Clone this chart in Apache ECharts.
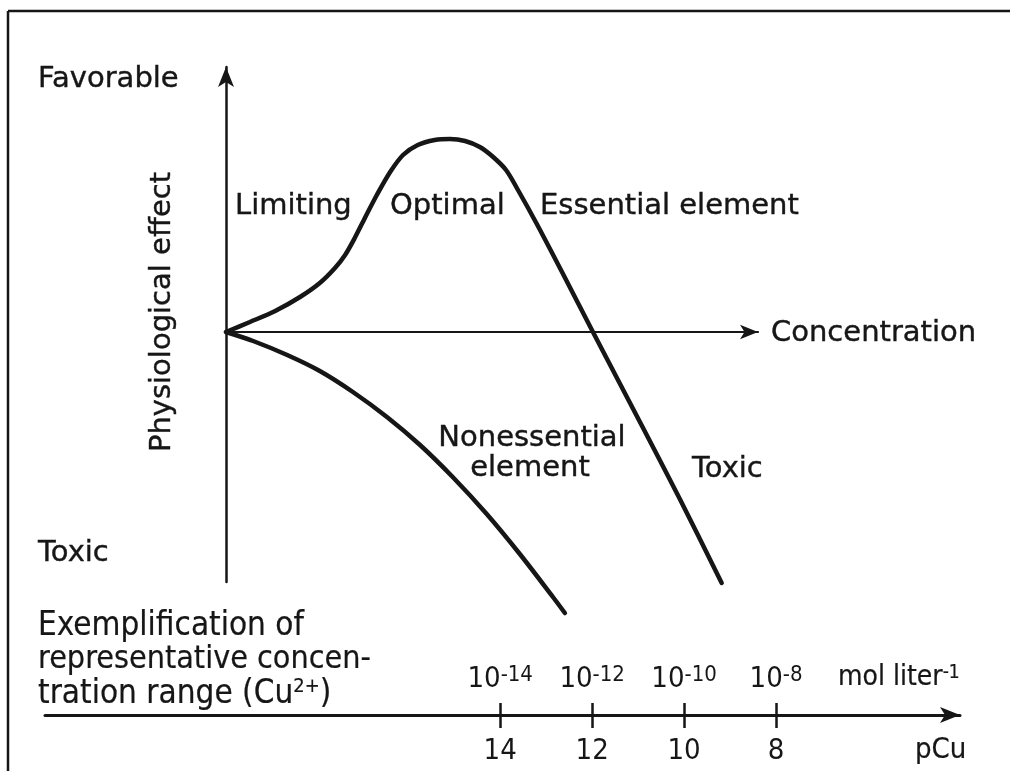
<!DOCTYPE html>
<html><head><meta charset="utf-8">
<script src="https://cdn.jsdelivr.net/npm/echarts@6/dist/echarts.min.js"></script>
<style>html,body{margin:0;padding:0;background:#fff}#c{width:1010px;height:771px}</style>
</head><body><div id="c"></div>
<script>
// x: log10 of Cu2+ concentration (mol/L) = -pCu ; y: physiological effect (arbitrary units, + favorable, - toxic)
const essentialX = [-20, -19.48, -18.93, -18.39, -17.96, -17.63, -17.41, -17.20, -16.98, -16.72, -16.43, -16.15, -15.83, -15.46, -15.13, -14.80, -14.48, -14.19, -13.91, -13.65, -13.24, -12.67, -12.02, -10.85, -10.13, -9.22];
const essentialY = [0, 0.20, 0.42, 0.70, 0.98, 1.28, 1.54, 1.88, 2.28, 2.74, 3.20, 3.54, 3.74, 3.84, 3.86, 3.82, 3.70, 3.50, 3.24, 2.84, 2.16, 1.16, 0, -2.06, -3.34, -5.02];
const nonessentialX = [-20, -19.41, -18.67, -17.96, -17.24, -16.50, -15.78, -15.07, -14.33, -13.61, -12.89, -12.63];
const nonessentialY = [0, -0.18, -0.46, -0.78, -1.20, -1.70, -2.26, -2.90, -3.64, -4.44, -5.30, -5.62];
const pCuTicks = [14, 12, 10, 8];

const INK = '#161616';
const F = '"DejaVu Sans", sans-serif';
const FC = '"DejaVu Sans Condensed", "DejaVu Sans", sans-serif';
const tickVals = pCuTicks.map(p => -p);
const pairs = (xs, ys) => xs.map((x, i) => [x, ys[i]]);

function txt(text, x, y, opts) {
  opts = opts || {};
  const st = Object.assign({
    text: text, font: opts.font || ('29px ' + F), fill: INK,
    stroke: INK, lineWidth: 0.4,
    align: opts.align || 'left', verticalAlign: 'middle',
    textAlign: opts.align || 'left', textVerticalAlign: 'middle'
  }, opts.style || {});
  const el = { type: 'text', x: x, y: y, style: st, silent: true };
  if (opts.rotation) el.rotation = opts.rotation;
  return el;
}

const supRich = { s: { font: '20px ' + FC, fill: INK, verticalAlign: 'top', lineHeight: 18 }, n: { font: '33px ' + FC, fill: INK, lineHeight: 34 } };

const chart = echarts.init(document.getElementById('c'), null, { renderer: 'canvas' });
chart.setOption({
  animation: false,
  backgroundColor: '#fff',
  grid: [
    { left: 226, right: 252, top: 67, bottom: 189 },
    { left: 45, right: 50, top: 715, bottom: 56 }
  ],
  xAxis: [
    { gridIndex: 0, type: 'value', min: -20, max: -8.43,
      axisLine: { onZero: true, symbol: ['none', 'arrow'], symbolSize: [11, 18], lineStyle: { color: INK, width: 2.2 } },
      axisTick: { show: false }, axisLabel: { show: false }, splitLine: { show: false } },
    { gridIndex: 1, type: 'value', position: 'bottom', min: -23.9, max: -4,
      axisLine: { onZero: false, symbol: ['none', 'arrow'], symbolSize: [12, 20], lineStyle: { color: INK, width: 3 } },
      axisTick: { customValues: tickVals, length: 13, lineStyle: { color: INK, width: 2.5 } },
      axisLabel: { customValues: tickVals, formatter: v => String(-v), margin: 22, color: INK, fontSize: 29, fontFamily: FC },
      splitLine: { show: false } },
    { gridIndex: 1, type: 'value', position: 'top', min: -23.9, max: -4,
      axisLine: { show: false, onZero: false },
      axisTick: { customValues: tickVals, length: 12, lineStyle: { color: INK, width: 2.5 } },
      axisLabel: { customValues: tickVals, margin: 21, color: INK,
        formatter: v => '{a|10}{s|' + v + '}',
        rich: { a: { fontSize: 29, fontFamily: FC, color: INK, lineHeight: 30 },
                s: { fontSize: 22, fontFamily: FC, color: INK, verticalAlign: 'top', lineHeight: 20 } } },
      splitLine: { show: false } }
  ],
  yAxis: [
    { gridIndex: 0, type: 'value', min: -5, max: 5.3,
      axisLine: { show: true, onZero: false, symbol: ['none', 'arrow'], symbolSize: [12, 20], lineStyle: { color: INK, width: 2.5 } },
      axisTick: { show: false }, axisLabel: { show: false }, splitLine: { show: false } },
    { gridIndex: 1, type: 'value', show: false }
  ],
  series: [
    { name: 'Essential element', type: 'line', xAxisIndex: 0, yAxisIndex: 0, data: pairs(essentialX, essentialY),
      smooth: 0.3, showSymbol: false, clip: false, silent: true, lineStyle: { color: INK, width: 4.5, cap: 'round' } },
    { name: 'Nonessential element', type: 'line', xAxisIndex: 0, yAxisIndex: 0, data: pairs(nonessentialX, nonessentialY),
      smooth: 0.3, showSymbol: false, clip: false, silent: true, lineStyle: { color: INK, width: 4.5, cap: 'round' } }
  ],
  graphic: [
    { type: 'line', silent: true, shape: { x1: 8, y1: 11, x2: 1010, y2: 11 }, style: { stroke: INK, lineWidth: 2.5 } },
    { type: 'line', silent: true, shape: { x1: 8, y1: 11, x2: 8, y2: 771 }, style: { stroke: INK, lineWidth: 2.5 } },
    txt('Favorable', 38, 79),
    txt('Physiological effect', 162, 312, { align: 'center', rotation: Math.PI / 2 }),
    txt('Limiting', 235, 206),
    txt('Optimal', 390, 206),
    txt('Essential element', 540, 206),
    txt('Concentration', 771, 333),
    txt('Nonessential', 532, 438, { align: 'center' }),
    txt('element', 530, 468, { align: 'center' }),
    txt('Toxic', 692, 469),
    txt('Toxic', 38, 553),
    txt('Exemplification of', 38, 626, { font: '33px ' + FC, style: { lineWidth: 0.2 } }),
    txt('representative concen-', 38, 660, { font: '32px ' + FC, style: { lineWidth: 0.2 } }),
    txt('{n|tration range (Cu}{s|2+}{n|)}', 38, 694, { font: '33px ' + FC, style: { rich: supRich, lineWidth: 0.2 } }),
    txt('{m|mol liter}{s|-1}', 838, 678, { style: { lineWidth: 0.2, rich: { m: { font: '28px ' + FC, fill: INK, lineHeight: 28 }, s: { font: '19px ' + FC, fill: INK, verticalAlign: 'top', lineHeight: 16 } } } }),
    txt('pCu', 915, 750, { font: '29px ' + FC, style: { lineWidth: 0.2 } })
  ]
});
</script></body></html>
